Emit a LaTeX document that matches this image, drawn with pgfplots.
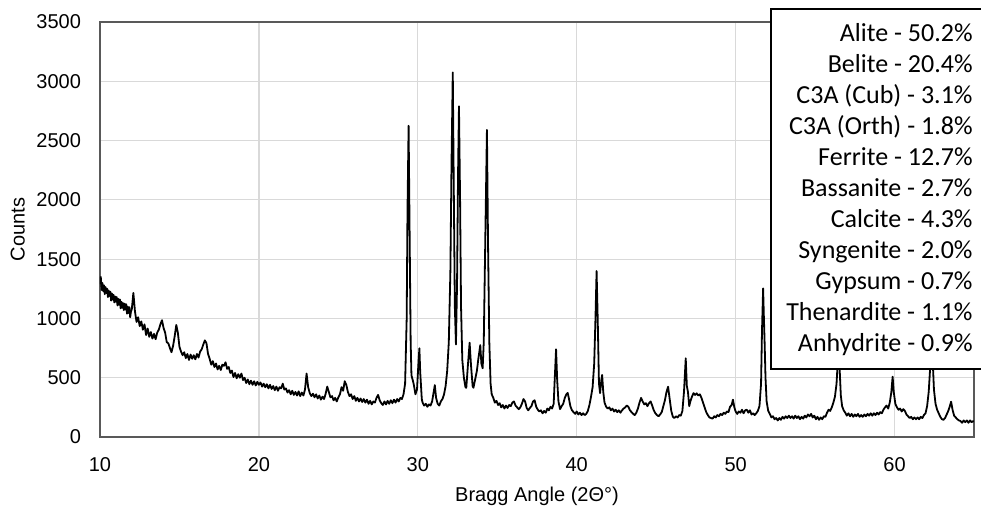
\documentclass[border=0pt]{standalone}
\usepackage{fontspec}
\setmainfont{Liberation Sans}
\newfontfamily\carlito{Carlito}
\usepackage{pgfplots}
\pgfplotsset{compat=1.18}
\definecolor{gridc}{HTML}{D9D9D9}
\definecolor{axc}{HTML}{595959}
\begin{document}
\begin{tikzpicture}
\useasboundingbox (-50pt,-36.5pt) rectangle (440.5pt,218.5pt);
\begin{axis}[
  at={(0,0)}, anchor=south west,
  scale only axis, width=437pt, height=207.5pt,
  xmin=10, xmax=65, ymin=0, ymax=3500,
  xtick={10,20,...,60}, ytick={0,500,...,3500},
  grid=major, major grid style={color=gridc, line width=0.6pt},
  axis line style={color=axc, line width=0.7pt},
  major tick length=0pt,
  /pgf/number format/assume math mode=true,
  /pgf/number format/set thousands separator={},
  tick label style={font=\fontsize{10}{12}\selectfont},
  yticklabel style={xshift=-6pt},
  xticklabel style={yshift=-6.5pt},
  xlabel={Bragg Angle (2Θ°)},
  ylabel={Counts},
  label style={font=\fontsize{10}{12}\selectfont},
  xlabel style={at={(axis description cs:0.5,-0.142)}, anchor=center},
  ylabel style={at={(axis description cs:-0.094,0.5)}, anchor=center},
]
\addplot[black, line width=0.9pt, line join=round] table {
10.0 1290
10.05 1350
10.1 1240
10.15 1300
10.2 1230
10.25 1280
10.3 1205
10.35 1265
10.4 1215
10.45 1250
10.5 1180
10.55 1235
10.6 1190
10.65 1225
10.7 1150
10.75 1210
10.8 1160
10.85 1200
10.9 1135
10.95 1185
11.0 1140
11.05 1180
11.1 1110
11.15 1165
11.2 1115
11.25 1160
11.3 1085
11.35 1140
11.4 1090
11.45 1130
11.5 1070
11.55 1125
11.6 1075
11.65 1120
11.7 1040
11.75 1100
11.8 1045
11.85 1095
11.9 1010
11.95 1060
12.0 1075
12.1 1215
12.2 1060
12.3 970
12.4 1010
12.5 935
12.6 975
12.7 905
12.8 950
12.9 860
13.0 915
13.1 845
13.2 885
13.3 830
13.4 870
13.5 825
13.6 880
13.7 905
13.8 950
13.9 985
14.0 920
14.1 880
14.2 800
14.3 790
14.4 750
14.5 715
14.6 770
14.7 850
14.8 945
14.9 880
15.0 760
15.1 720
15.2 690
15.3 715
15.4 665
15.5 700
15.6 650
15.7 695
15.8 660
15.9 690
16.0 655
16.1 700
16.2 670
16.3 720
16.4 740
16.5 780
16.6 815
16.7 790
16.8 700
16.9 660
17.0 610
17.1 640
17.2 590
17.3 620
17.4 570
17.5 600
17.6 565
17.7 610
17.8 600
17.9 630
18.0 575
18.1 590
18.2 540
18.3 560
18.4 505
18.5 540
18.6 495
18.7 530
18.8 500
18.9 535
19.0 480
19.1 500
19.2 455
19.3 485
19.4 445
19.5 475
19.6 440
19.7 470
19.8 435
19.9 465
20.0 440
20.1 460
20.2 425
20.3 450
20.4 420
20.5 445
20.6 410
20.7 440
20.8 405
20.9 430
21.0 395
21.1 425
21.2 390
21.3 420
21.4 410
21.5 450
21.6 400
21.7 410
21.8 375
21.9 395
22.0 360
22.1 390
22.2 355
22.3 380
22.4 350
22.5 385
22.6 345
22.7 375
22.8 350
22.9 400
23.0 535
23.1 420
23.2 370
23.3 345
23.4 365
23.5 335
23.6 360
23.7 325
23.8 350
23.9 315
24.0 340
24.1 320
24.2 365
24.3 425
24.4 380
24.5 335
24.6 345
24.7 310
24.8 330
24.9 300
25.0 335
25.1 360
25.2 420
25.3 390
25.4 470
25.5 440
25.6 380
25.7 345
25.8 360
25.9 320
26.0 345
26.1 305
26.2 330
26.3 300
26.4 325
26.5 295
26.6 320
26.7 290
26.8 315
26.9 280
27.0 305
27.1 275
27.2 300
27.3 290
27.4 330
27.5 355
27.6 310
27.7 285
27.8 270
27.9 300
28.0 275
28.1 305
28.2 280
28.3 310
28.4 285
28.5 315
28.6 290
28.7 320
28.8 300
28.9 330
29.0 320
29.1 360
29.2 450
29.3 1000
29.35 1900
29.42 2625
29.5 1500
29.55 800
29.6 520
29.7 470
29.75 440
29.85 360
29.95 400
30.05 650
30.1 748
30.15 550
30.25 320
30.3 290
30.4 265
30.5 280
30.6 255
30.7 275
30.8 265
30.9 300
31.0 380
31.07 438
31.15 330
31.25 280
31.35 265
31.45 300
31.55 320
31.65 360
31.75 430
31.85 560
31.95 800
32.05 1400
32.12 2300
32.2 3075
32.27 2000
32.33 1100
32.4 780
32.47 1300
32.53 2200
32.59 2790
32.66 2000
32.72 1100
32.8 650
32.9 500
33.0 420
33.05 415
33.15 600
33.26 795
33.35 600
33.45 430
33.5 415
33.6 480
33.72 560
33.8 650
33.93 775
34.0 620
34.08 580
34.15 800
34.25 1700
34.35 2590
34.42 1620
34.5 800
34.58 450
34.65 360
34.75 330
34.85 290
34.95 305
35.05 270
35.15 285
35.25 250
35.35 270
35.45 240
35.55 265
35.65 245
35.75 270
35.85 260
35.95 290
36.05 300
36.15 265
36.25 250
36.35 235
36.45 250
36.55 280
36.65 320
36.75 300
36.85 245
36.95 225
37.05 245
37.15 260
37.25 300
37.35 310
37.45 255
37.55 230
37.65 215
37.75 225
37.85 200
37.95 220
38.05 205
38.15 240
38.25 225
38.35 255
38.45 240
38.55 280
38.62 500
38.7 740
38.77 480
38.85 300
38.95 235
39.05 260
39.15 280
39.25 330
39.35 360
39.43 372
39.5 330
39.6 260
39.7 225
39.8 210
39.9 195
40.0 215
40.1 190
40.2 205
40.3 185
40.4 200
40.5 185
40.6 195
40.7 220
40.8 270
40.9 340
41.0 420
41.1 620
41.18 1000
41.25 1400
41.32 1000
41.4 450
41.47 370
41.55 480
41.6 523
41.67 380
41.75 290
41.85 256
41.95 240
42.05 250
42.15 225
42.25 240
42.35 215
42.45 230
42.55 210
42.65 225
42.75 205
42.85 225
42.95 240
43.05 250
43.15 265
43.25 255
43.35 225
43.45 210
43.55 195
43.65 185
43.75 205
43.85 240
43.95 290
44.05 330
44.15 300
44.25 275
44.35 285
44.45 260
44.55 285
44.65 300
44.75 265
44.85 225
44.95 200
45.05 185
45.15 175
45.25 190
45.35 210
45.45 260
45.55 310
45.65 380
45.75 424
45.85 320
45.95 220
46.05 170
46.15 160
46.25 175
46.35 165
46.45 185
46.55 180
46.65 220
46.75 380
46.86 663
46.93 430
47.0 380
47.08 260
47.15 300
47.25 340
47.35 370
47.45 355
47.55 368
47.65 350
47.75 360
47.85 330
47.95 290
48.05 250
48.15 210
48.25 185
48.35 165
48.45 160
48.55 155
48.65 175
48.75 165
48.85 185
48.95 175
49.05 195
49.15 185
49.25 205
49.35 195
49.45 215
49.55 210
49.65 255
49.75 270
49.83 315
49.92 250
50.0 215
50.1 195
50.2 215
50.3 205
50.4 230
50.5 200
50.6 225
50.7 230
50.8 205
50.9 225
51.0 190
51.1 200
51.2 185
51.3 200
51.4 220
51.5 260
51.6 450
51.66 900
51.73 1254
51.78 1000
51.82 820
51.88 500
51.95 300
52.05 220
52.15 195
52.25 165
52.35 175
52.45 150
52.55 160
52.65 140
52.75 160
52.85 145
52.95 170
53.05 155
53.15 175
53.25 160
53.35 180
53.45 160
53.55 175
53.65 155
53.75 180
53.85 160
53.95 175
54.05 150
54.15 170
54.25 155
54.35 180
54.45 165
54.55 190
54.65 175
54.75 195
54.85 165
54.95 180
55.05 150
55.15 170
55.25 145
55.35 165
55.45 150
55.55 175
55.65 170
55.75 205
55.85 230
55.95 220
56.05 250
56.15 290
56.25 340
56.35 450
56.42 620
56.48 690
56.55 560
56.62 350
56.7 260
56.8 225
56.9 205
57.0 180
57.1 200
57.2 175
57.3 195
57.4 170
57.5 190
57.6 175
57.7 195
57.8 170
57.9 185
58.0 170
58.1 190
58.2 175
58.3 195
58.4 180
58.5 200
58.6 180
58.7 200
58.8 185
58.9 205
59.0 190
59.1 210
59.2 200
59.3 230
59.4 250
59.5 265
59.6 240
59.7 290
59.8 380
59.88 509
59.95 380
60.05 280
60.15 250
60.25 230
60.35 240
60.45 215
60.55 235
60.65 220
60.75 190
60.85 175
60.95 160
61.05 170
61.15 150
61.25 165
61.35 150
61.45 165
61.55 150
61.65 170
61.75 160
61.85 185
61.95 200
62.05 260
62.15 380
62.25 600
62.33 800
62.4 650
62.48 400
62.58 280
62.68 230
62.78 200
62.88 170
62.98 150
63.08 145
63.18 160
63.28 190
63.38 220
63.48 260
63.56 298
63.65 230
63.75 180
63.85 165
63.95 150
64.05 140
64.15 135
64.25 120
64.35 140
64.45 125
64.55 140
64.65 120
64.75 140
64.85 125
64.95 135
65.0 130
};
\end{axis}
\draw[black, line width=1pt, fill=white] (335.5pt,34pt) rectangle (445pt,214pt);
\foreach \t [count=\i from 0] in {Alite - 50.2\%, Belite - 20.4\%, C3A (Cub) - 3.1\%, C3A (Orth) - 1.8\%, Ferrite - 12.7\%, Bassanite - 2.7\%, Calcite - 4.3\%, Syngenite - 2.0\%, Gypsum - 0.7\%, Thenardite - 1.1\%, Anhydrite - 0.9\%}
  \node[anchor=base east, inner sep=0pt, font=\carlito\fontsize{13}{15.5}\selectfont] at (436.5pt, {197.65pt-15.5pt*\i}) {\t};
\end{tikzpicture}
\end{document}
